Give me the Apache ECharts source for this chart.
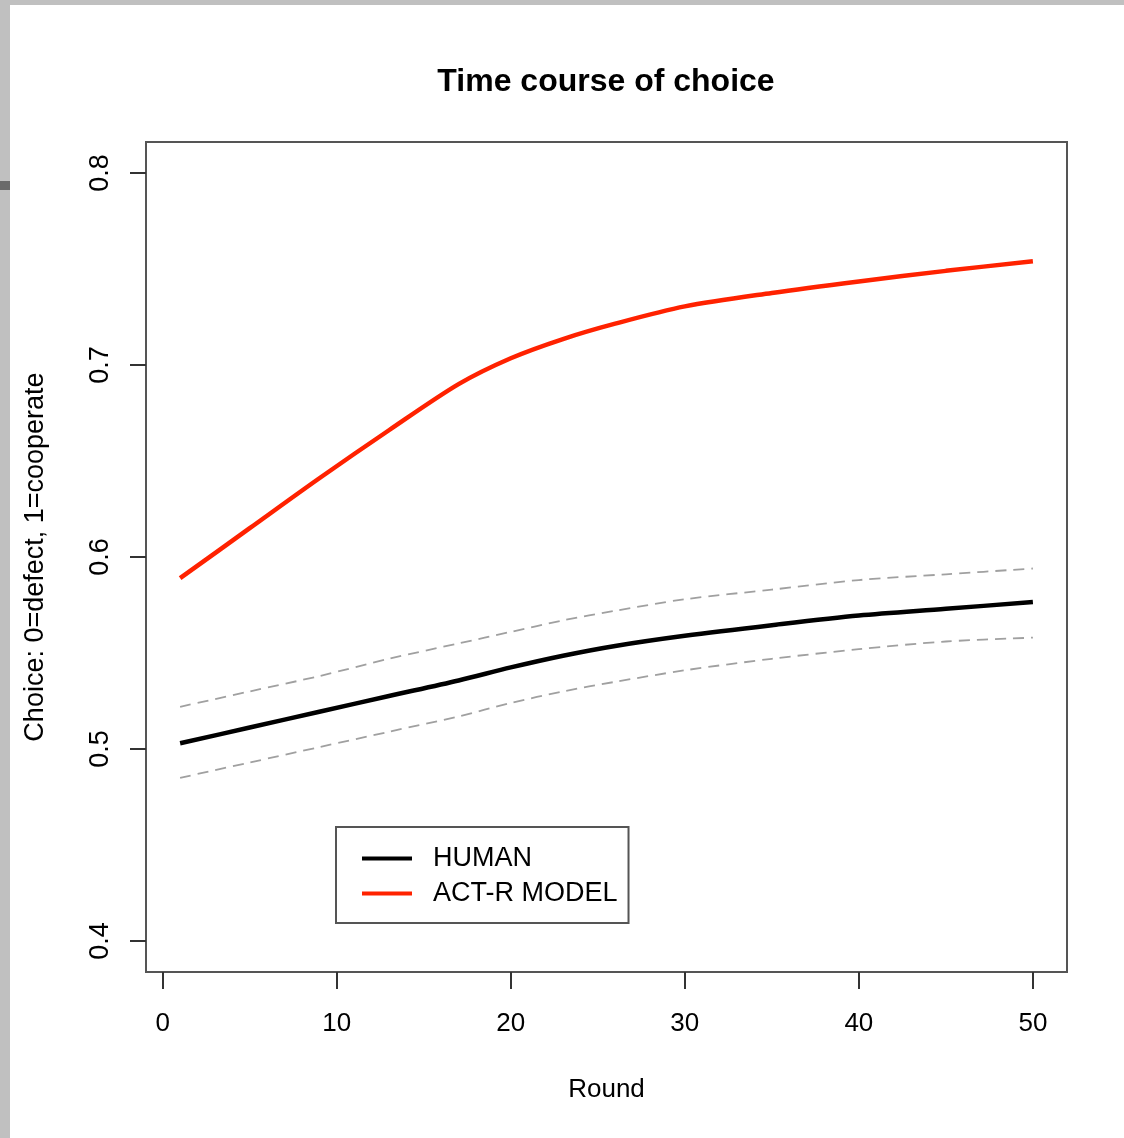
<!DOCTYPE html>
<html>
<head>
<meta charset="utf-8">
<script src="https://cdn.jsdelivr.net/npm/echarts@6/dist/echarts.min.js"></script>
<style>
  html, body { margin: 0; padding: 0; background: #c0c0c0; width: 1124px; height: 1138px; overflow: hidden; }
  #frame { position: absolute; left: 10px; top: 5px; width: 1114px; height: 1133px; background: #ffffff; }
  #chart { position: absolute; left: 0; top: 0; width: 1114px; height: 1133px; }
  #mark { position: absolute; left: 0; top: 181px; width: 10px; height: 9px; background: #6a6a6a; }
</style>
</head>
<body>
<div id="mark"></div>
<div id="frame"><div id="chart"></div></div>
<script>
// ---- data ----
const rounds     = [1, 5, 9, 13, 17, 20, 23, 26, 30, 35, 40, 45, 50];
const human      = [0.503, 0.5112, 0.5194, 0.5276, 0.5357, 0.5425, 0.5486, 0.5537, 0.559, 0.5645, 0.5695, 0.573, 0.5766];
const humanUpper = [0.522, 0.530, 0.538, 0.547, 0.555, 0.561, 0.567, 0.572, 0.578, 0.583, 0.588, 0.591, 0.594];
const humanLower = [0.485, 0.493, 0.501, 0.509, 0.517, 0.524, 0.530, 0.535, 0.541, 0.547, 0.552, 0.556, 0.558];
const model      = [0.589, 0.615, 0.641, 0.666, 0.690, 0.7035, 0.7135, 0.7215, 0.7305, 0.7375, 0.7435, 0.749, 0.754];
const xTicks     = [0, 10, 20, 30, 40, 50];
const yTicks     = [0.4, 0.5, 0.6, 0.7, 0.8];
const seriesNames = ['HUMAN', 'ACT-R MODEL'];

const pair = (ys) => rounds.map((r, i) => [r, ys[i]]);
const font = 'Liberation Sans, Arial, Helvetica, sans-serif';

const chart = echarts.init(document.getElementById('chart'));
chart.setOption({
  animation: false,
  backgroundColor: '#ffffff',
  title: {
    text: 'Time course of choice',
    left: 591, top: 56, textAlign: 'center',
    textStyle: { fontFamily: font, fontSize: 32, fontWeight: 'bold', color: '#000' }
  },
  grid: {
    left: 136, top: 137, right: 57, bottom: 166,
    show: true, borderColor: '#555555', borderWidth: 2, backgroundColor: 'transparent'
  },
  legend: {
    data: seriesNames,
    orient: 'vertical',
    left: 326, top: 822,
    padding: [18, 11, 16, 24],
    itemGap: 8,
    itemWidth: 50, itemHeight: 25,
    backgroundColor: '#ffffff',
    borderColor: '#555555', borderWidth: 2, borderRadius: 0,
    itemStyle: { opacity: 0 },
    lineStyle: { width: 4 },
    textStyle: { fontFamily: font, fontSize: 27, color: '#000', padding: [0, 0, 0, 16] }
  },
  xAxis: {
    type: 'value',
    min: -0.96, max: 51.96,
    name: 'Round', nameLocation: 'middle', nameGap: 105,
    nameTextStyle: { fontFamily: font, fontSize: 26, color: '#000' },
    splitLine: { show: false },
    axisLine: { show: false, onZero: false },
    axisTick: { show: true, length: 17, inside: false, customValues: xTicks, lineStyle: { color: '#333', width: 2 } },
    axisLabel: { customValues: xTicks, margin: 39, fontFamily: font, fontSize: 26, color: '#000' }
  },
  yAxis: {
    type: 'value',
    min: 0.3839, max: 0.8161,
    name: 'Choice: 0=defect, 1=cooperate', nameLocation: 'middle', nameGap: 97, nameRotate: 90,
    nameTextStyle: { fontFamily: font, fontSize: 27, color: '#000' },
    splitLine: { show: false },
    axisLine: { show: false, onZero: false },
    axisTick: { show: true, length: 16, inside: false, customValues: yTicks, lineStyle: { color: '#333', width: 2 } },
    axisLabel: { customValues: yTicks, rotate: 90, margin: 32, fontFamily: font, fontSize: 27, color: '#000',
                 formatter: (v) => v.toFixed(1) }
  },
  series: [
    { name: 'upper', type: 'line', data: pair(humanUpper), smooth: 0.3, symbol: 'none',
      lineStyle: { color: '#a0a0a0', width: 1.8, type: [11, 7] }, z: 2 },
    { name: 'lower', type: 'line', data: pair(humanLower), smooth: 0.3, symbol: 'none',
      lineStyle: { color: '#a0a0a0', width: 1.8, type: [11, 7] }, z: 2 },
    { name: seriesNames[0], type: 'line', data: pair(human), smooth: 0.3, symbol: 'none',
      itemStyle: { color: '#000000' },
      lineStyle: { color: '#000000', width: 4.5 }, z: 3 },
    { name: seriesNames[1], type: 'line', data: pair(model), smooth: 0.3, symbol: 'none',
      itemStyle: { color: '#ff2200' },
      lineStyle: { color: '#ff2200', width: 4.5 }, z: 3 }
  ]
});
</script>
</body>
</html>
